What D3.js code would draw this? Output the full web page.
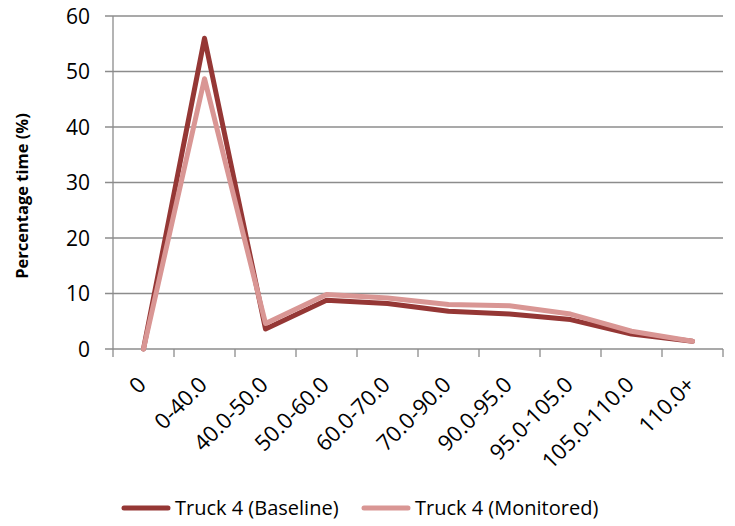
<!DOCTYPE html>
<html>
<head>
<meta charset="utf-8">
<script src="https://cdn.jsdelivr.net/npm/d3@7"></script>
<style>
  body { margin: 0; background: #fff; }
  text { font-family: "Open Sans", "Noto Sans", sans-serif; fill: #000; }
</style>
</head>
<body>
<div id="chart"></div>
<script>
// categories and series
const categories = ["0", "0-40.0", "40.0-50.0", "50.0-60.0", "60.0-70.0", "70.0-90.0", "90.0-95.0", "95.0-105.0", "105.0-110.0", "110.0+"];
const baseline = [0, 56, 3.6, 8.8, 8.2, 6.8, 6.3, 5.3, 2.7, 1.4];
const monitored = [0, 48.7, 4.6, 9.8, 9.2, 8.0, 7.8, 6.3, 3.2, 1.4];
const yTicks = [0, 10, 20, 30, 40, 50, 60];

const svgWidth = 735;
const svgHeight = 526;
const margin = { top: 16, right: 12, bottom: 177, left: 113 };
const width = svgWidth - margin.left - margin.right;
const height = svgHeight - margin.top - margin.bottom;

const svg = d3.select("#chart").append("svg")
    .attr("width", svgWidth)
    .attr("height", svgHeight);

const g = svg.append("g")
    .attr("transform", `translate(${margin.left}, ${margin.top})`);

const x = d3.scaleBand()
    .domain(categories)
    .range([0, width]);

const y = d3.scaleLinear()
    .domain([0, 60])
    .range([height, 0]);

// gridlines (with the small tick on the left of the axis)
g.append("g")
    .selectAll("line")
    .data(yTicks)
    .enter().append("line")
    .attr("x1", -8)
    .attr("x2", width)
    .attr("y1", d => y(d))
    .attr("y2", d => y(d))
    .attr("stroke", "#8c8c8c")
    .attr("stroke-width", 1.3);

// y axis line
g.append("line")
    .attr("x1", 0).attr("x2", 0)
    .attr("y1", 0).attr("y2", height + 8)
    .attr("stroke", "#8c8c8c")
    .attr("stroke-width", 1.3);

// x tick marks at band edges
const edges = categories.map(c => x(c)).concat([width]);
g.append("g")
    .selectAll("line")
    .data(edges.slice(1))
    .enter().append("line")
    .attr("x1", d => d).attr("x2", d => d)
    .attr("y1", height).attr("y2", height + 8)
    .attr("stroke", "#8c8c8c")
    .attr("stroke-width", 1.3);

// y tick labels
g.append("g")
    .selectAll("text")
    .data(yTicks)
    .enter().append("text")
    .attr("x", -23)
    .attr("y", d => y(d))
    .attr("dy", "0.36em")
    .attr("text-anchor", "end")
    .style("font-size", "21px")
    .text(d => d);

// x tick labels, rotated
g.append("g")
    .selectAll("text")
    .data(categories)
    .enter().append("text")
    .attr("transform", d => `translate(${x(d) + x.bandwidth() / 2 + 4}, ${height + 37}) rotate(-45)`)
    .attr("text-anchor", "end")
    .style("font-size", "22px")
    .text(d => d);

// y axis title
svg.append("text")
    .attr("transform", "translate(28, 196) rotate(-90)")
    .attr("text-anchor", "middle")
    .style("font-size", "16.5px")
    .style("font-weight", "bold")
    .text("Percentage time (%)");

const line = d3.line()
    .x((d, i) => x(categories[i]) + x.bandwidth() / 2)
    .y(d => y(d));

const series = [
    { name: "Truck 4 (Baseline)", values: baseline, color: "#953735" },
    { name: "Truck 4 (Monitored)", values: monitored, color: "#d99694" }
];

g.selectAll(".series")
    .data(series)
    .enter().append("path")
    .attr("class", "series")
    .attr("d", d => line(d.values))
    .attr("fill", "none")
    .attr("stroke", d => d.color)
    .attr("stroke-width", 5)
    .attr("stroke-linejoin", "round")
    .attr("stroke-linecap", "round");

// legend
const legendX = [124, 364];
const legend = svg.append("g")
    .selectAll("g")
    .data(series)
    .enter().append("g")
    .attr("transform", (d, i) => `translate(${legendX[i]}, 508)`);

legend.append("line")
    .attr("x1", 0).attr("x2", 44)
    .attr("stroke", d => d.color)
    .attr("stroke-width", 5)
    .attr("stroke-linecap", "round");

legend.append("text")
    .attr("x", 51)
    .attr("dy", "0.36em")
    .style("font-size", "20px")
    .text(d => d.name);
</script>
</body>
</html>
